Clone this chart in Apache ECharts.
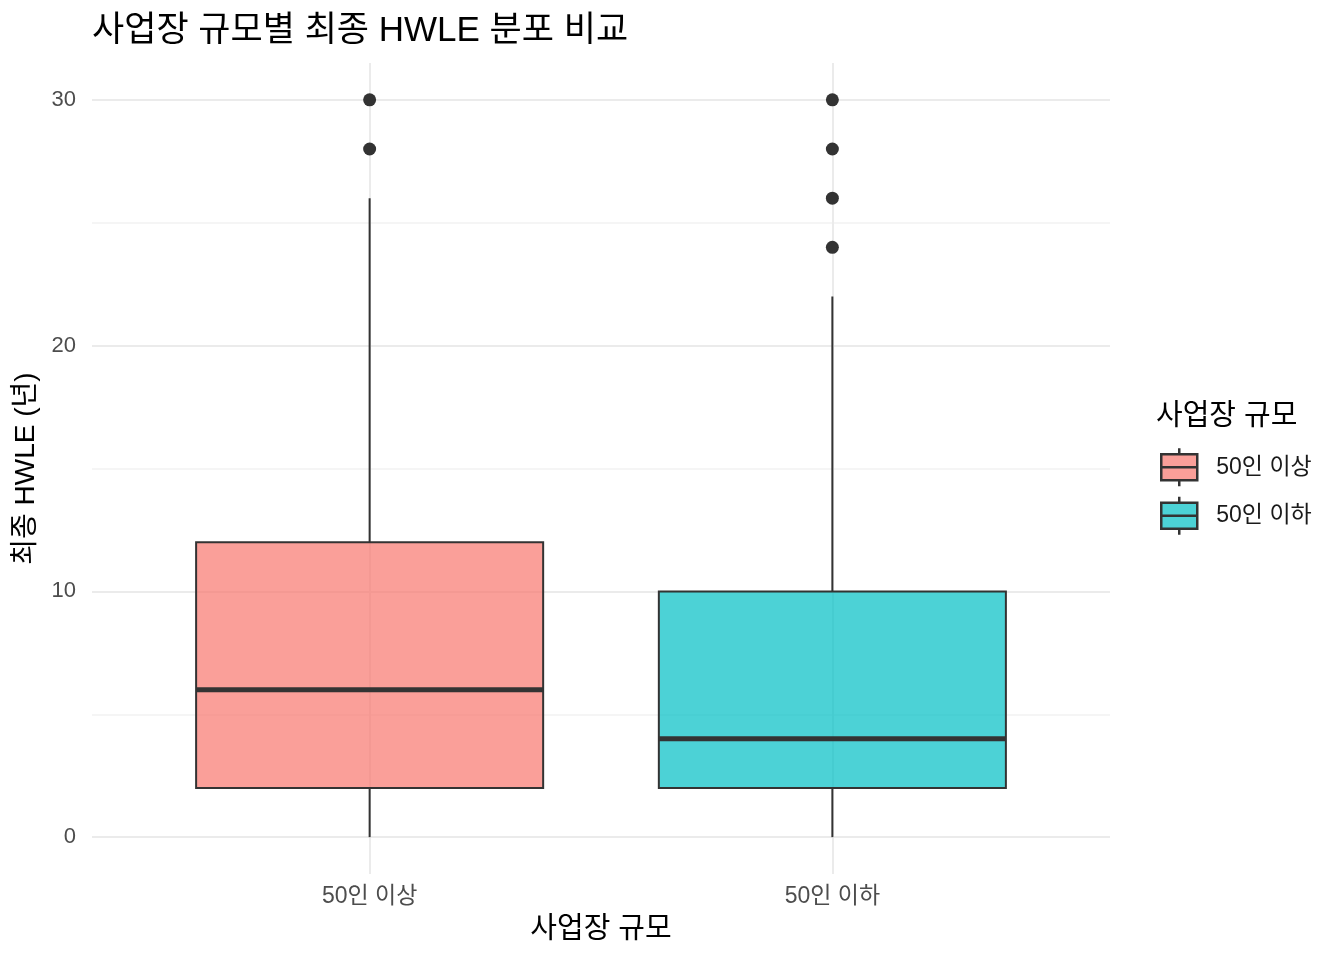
<!DOCTYPE html>
<html>
<head>
<meta charset="utf-8">
<script src="https://cdn.jsdelivr.net/npm/echarts@6/dist/echarts.min.js"></script>
<style>
  html, body { margin: 0; padding: 0; background: #fff; }
  #chart { width: 1344px; height: 960px; }
</style>
</head>
<body>
<div id="chart"></div>
<script>
// categories and box statistics
var categories = ['50인 이상', '50인 이하'];
var whiskerLow = [0, 0];
var q1 = [2, 2];
var median = [6, 4];
var q3 = [12, 10];
var whiskerHigh = [26, 22];
var outliers = [[28, 30], [24, 26, 28, 30]];
var yTicks = [0, 10, 20, 30];

var fills = ['rgba(248,118,109,0.7)', 'rgba(0,191,196,0.7)'];
var FONT = '"Liberation Sans", "Noto Sans CJK KR", sans-serif';

// panel geometry (ggplot-like expansion)
var W = 1344, H = 960;
var panelL = 92, panelR = 1110, panelT = 63, panelB = 874;
var xMin = 0.4, xMax = 2.6;
var yMin = -1.5, yMax = 31.5;
var pxX = (panelR - panelL) / (xMax - xMin);
var pxY = (panelB - panelT) / (yMax - yMin);

function renderBox(params, api) {
  var x = api.value(0);
  var half = 0.375;
  var pLow = api.coord([x, api.value(1)]);
  var pQ1 = api.coord([x, api.value(2)]);
  var pMed = api.coord([x, api.value(3)]);
  var pQ3 = api.coord([x, api.value(4)]);
  var pHigh = api.coord([x, api.value(5)]);
  var left = api.coord([x - half, 0])[0];
  var right = api.coord([x + half, 0])[0];
  var ink = '#333333';
  return {
    type: 'group',
    children: [
      { type: 'line', shape: { x1: pLow[0], y1: pLow[1], x2: pQ1[0], y2: pQ1[1] }, style: { stroke: ink, lineWidth: 2 } },
      { type: 'line', shape: { x1: pQ3[0], y1: pQ3[1], x2: pHigh[0], y2: pHigh[1] }, style: { stroke: ink, lineWidth: 2 } },
      { type: 'rect', shape: { x: left, y: pQ3[1], width: right - left, height: pQ1[1] - pQ3[1] },
        style: { fill: api.visual('color'), stroke: ink, lineWidth: 2 } },
      { type: 'line', shape: { x1: left, y1: pMed[1], x2: right, y2: pMed[1] }, style: { stroke: ink, lineWidth: 5 } }
    ]
  };
}

var boxSeries = categories.map(function (name, i) {
  return {
    name: name,
    type: 'custom',
    xAxisIndex: 0,
    yAxisIndex: 0,
    itemStyle: { color: fills[i] },
    renderItem: renderBox,
    encode: { x: 0, y: [1, 2, 3, 4, 5] },
    data: [[i + 1, whiskerLow[i], q1[i], median[i], q3[i], whiskerHigh[i]]],
    z: 3
  };
});

var outlierData = [];
outliers.forEach(function (list, i) {
  list.forEach(function (v) { outlierData.push([i + 1, v]); });
});

var myChart = echarts.init(document.getElementById('chart'));
var option = {
  backgroundColor: '#ffffff',
  animation: false,
  textStyle: { fontFamily: FONT },
  title: [{
    text: '사업장 규모별 최종 HWLE 분포 비교',
    left: panelL - 5,
    top: 9,
    textStyle: { fontFamily: FONT, fontSize: 35, fontWeight: 'normal', color: '#000000' }
  }, {
    text: '사업장 규모',
    left: 1151,
    top: 397,
    textStyle: { fontFamily: FONT, fontSize: 29, fontWeight: 'normal', color: '#000000' }
  }],
  legend: {
    data: categories,
    orient: 'vertical',
    left: 1155,
    top: 442,
    itemWidth: 36,
    itemHeight: 38,
    itemGap: 8,
    icon: 'path://M0,6 L36,6 L36,32 L0,32 Z M0,19 L36,19 M18,0 L18,6 M18,32 L18,38',
    itemStyle: { borderColor: '#333333', borderWidth: 2.5 },
    textStyle: { fontFamily: FONT, fontSize: 23, color: '#1a1a1a', padding: [0, 0, 0, 14] }
  },
  grid: [
    // plotting panel
    { left: panelL, right: W - panelR, top: panelT, bottom: H - panelB },
    // y reference: 0..30
    { left: panelL, right: W - panelR, top: panelB - (30 - yMin) * pxY, bottom: H - (panelB - (0 - yMin) * pxY) },
    // x reference: categories 1..2
    { left: panelL + (1 - xMin) * pxX, right: W - (panelL + (2 - xMin) * pxX), top: panelT, bottom: H - panelB }
  ],
  xAxis: [
    { type: 'value', gridIndex: 0, min: xMin, max: xMax, show: false },
    { type: 'value', gridIndex: 1, min: 0, max: 1, show: false },
    {
      type: 'value', gridIndex: 2, min: 1, max: 2, interval: 1,
      name: '사업장 규모', nameLocation: 'middle', nameGap: 41,
      nameTextStyle: { fontFamily: FONT, fontSize: 29, color: '#000000' },
      axisLine: { show: false }, axisTick: { show: false },
      axisLabel: {
        margin: 11, fontSize: 23, color: '#4d4d4d', fontFamily: FONT,
        formatter: function (v) { return categories[Math.round(v) - 1] || ''; }
      },
      splitLine: { show: true, lineStyle: { color: '#ebebeb', width: 2 } }
    }
  ],
  yAxis: [
    { type: 'value', gridIndex: 0, min: yMin, max: yMax, show: false },
    {
      type: 'value', gridIndex: 1, min: yTicks[0], max: yTicks[yTicks.length - 1], interval: 10,
      name: '최종 HWLE (년)', nameLocation: 'middle', nameGap: 50, nameRotate: 90,
      nameTextStyle: { fontFamily: FONT, fontSize: 28, color: '#000000' },
      axisLine: { show: false }, axisTick: { show: false },
      axisLabel: { margin: 16, fontSize: 22, color: '#4d4d4d', fontFamily: FONT },
      splitLine: { show: true, lineStyle: { color: '#ebebeb', width: 2 } },
      minorTick: { show: false, splitNumber: 2 },
      minorSplitLine: { show: true, lineStyle: { color: '#f2f2f2', width: 1.5 } }
    },
    { type: 'value', gridIndex: 2, min: 0, max: 1, show: false }
  ],
  series: boxSeries.concat([{
    type: 'scatter',
    xAxisIndex: 0,
    yAxisIndex: 0,
    symbol: 'circle',
    symbolSize: 13,
    itemStyle: { color: '#333333', opacity: 1 },
    data: outlierData,
    z: 4
  }])
};
myChart.setOption(option);
</script>
</body>
</html>
